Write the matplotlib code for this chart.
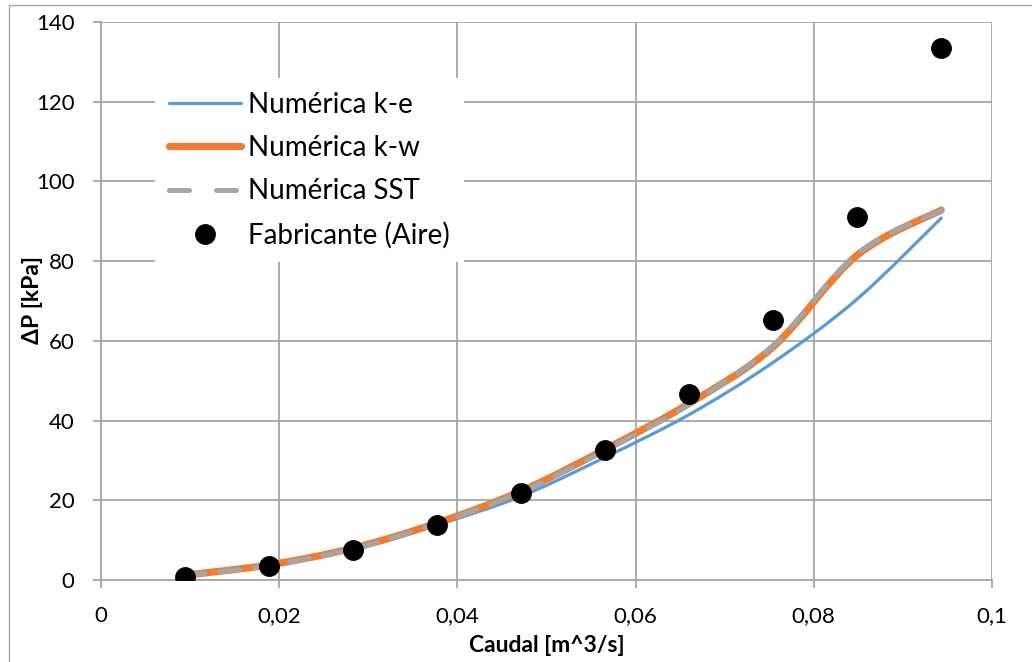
import matplotlib
matplotlib.use("Agg")
import matplotlib.pyplot as plt
from matplotlib.path import Path
from matplotlib.patches import PathPatch, Rectangle
from matplotlib.lines import Line2D
from matplotlib.ticker import FixedLocator, FixedFormatter

plt.rcParams['font.family'] = ['Lato', 'DejaVu Sans']

# Flow rate [m^3/s] and pressure drop [kPa]
caudal = [0.00943, 0.01886, 0.02829, 0.03772, 0.04715,
          0.05658, 0.06601, 0.07544, 0.08487, 0.0943]
fabricante = [0.75, 3.5, 7.5, 13.8, 21.8, 32.6, 46.7, 65.2, 91.0, 133.4]
k_e = [1.0, 3.6, 7.6, 13.8, 21.0, 30.8, 41.5, 54.6, 70.5, 90.8]
k_w = [1.2, 3.8, 8.0, 14.3, 22.3, 32.8, 44.3, 58.5, 81.5, 92.8]
sst = [1.1, 3.7, 7.8, 14.2, 22.1, 32.5, 44.1, 58.8, 81.8, 92.7]

x_ticks = [0, 0.02, 0.04, 0.06, 0.08, 0.1]
x_tick_labels = ["0", "0,02", "0,04", "0,06", "0,08", "0,1"]
y_ticks = [0, 20, 40, 60, 80, 100, 120, 140]

C_BLUE = "#5B9BD5"
C_ORANGE = "#ED7D31"
C_GRAY = "#A5A5A5"


def smooth_path(xs, ys):
    """Cubic Bezier path through the points (Catmull-Rom style smoothing)."""
    pts = list(zip(xs, ys))
    n = len(pts)
    verts = [pts[0]]
    codes = [Path.MOVETO]
    for i in range(n - 1):
        p0 = pts[i - 1] if i > 0 else pts[i]
        p1 = pts[i]
        p2 = pts[i + 1]
        p3 = pts[i + 2] if i + 2 < n else pts[i + 1]
        c1 = (p1[0] + (p2[0] - p0[0]) / 6, p1[1] + (p2[1] - p0[1]) / 6)
        c2 = (p2[0] - (p3[0] - p1[0]) / 6, p2[1] - (p3[1] - p1[1]) / 6)
        verts += [c1, c2, p2]
        codes += [Path.CURVE4] * 3
    return Path(verts, codes)


fig = plt.figure(figsize=(10.32, 6.62), dpi=100)
ax = fig.add_axes([101 / 1032, 82 / 662, 891 / 1032, 558 / 662])

# chart border
fig.patches.append(Rectangle((9 / 1032, -0.01), 1.02, (662 - 5) / 662 + 0.01,
                             transform=fig.transFigure, fill=False,
                             edgecolor="#A6A6A6", linewidth=1.0))

ax.set_xlim(0, 0.1)
ax.set_ylim(0, 140)
ax.xaxis.set_major_locator(FixedLocator(x_ticks))
ax.xaxis.set_major_formatter(FixedFormatter(x_tick_labels))
ax.set_yticks(y_ticks)
ax.grid(True, color="#A6A6A6", linewidth=1.3, zorder=0)
ax.set_axisbelow(True)
for side in ("top", "right"):
    ax.spines[side].set_visible(False)
for side in ("left", "bottom"):
    ax.spines[side].set_color("#A6A6A6")
    ax.spines[side].set_linewidth(1.3)
ax.tick_params(axis="both", direction="out", length=6, width=1.3,
               color="#A6A6A6", labelsize=16, labelcolor="#000000")
ax.tick_params(axis="x", pad=13)
ax.tick_params(axis="y", pad=13)

ax.add_patch(PathPatch(smooth_path(caudal, k_e), fill=False, edgecolor=C_BLUE,
                       linewidth=2.3, capstyle="round", zorder=3))
ax.add_patch(PathPatch(smooth_path(caudal, k_w), fill=False, edgecolor=C_ORANGE,
                       linewidth=5.2, capstyle="round", joinstyle="round", zorder=4))
ax.add_patch(PathPatch(smooth_path(caudal, sst), fill=False, edgecolor=C_GRAY,
                       linewidth=3.6, linestyle=(0, (4, 3)), capstyle="round", zorder=5))
ax.plot(caudal, fabricante, linestyle="none", marker="o", markersize=14,
        color="black", zorder=6)

ax.set_xlabel("Caudal [m^3/s]", fontsize=16.5, fontweight="bold")
ax.set_ylabel("ΔP [kPa]", fontsize=16.5, fontweight="bold")
ax.xaxis.set_label_coords(0.5, (580 - 646) / 558)
ax.xaxis.label.set_verticalalignment("center")
ax.yaxis.set_label_coords((32 - 101) / 891, (580 - 300) / 558)
ax.yaxis.label.set_verticalalignment("center")

handles = [
    Line2D([], [], color=C_BLUE, linewidth=2.3, solid_capstyle="round"),
    Line2D([], [], color=C_ORANGE, linewidth=5.2, solid_capstyle="round"),
    Line2D([], [], color=C_GRAY, linewidth=3.6, linestyle=(0, (4, 5.4)),
           dash_capstyle="round"),
    Line2D([], [], linestyle="none", marker="o", markersize=14, color="black"),
]
labels = ["Numérica k-e", "Numérica k-w", "Numérica SST", "Fabricante (Aire)"]
leg = ax.legend(handles, labels, loc="upper left",
                bbox_to_anchor=((155 - 101) / 891, (580 - 78) / 558),
                fontsize=20, frameon=True,
                facecolor="white", edgecolor="none", framealpha=1.0,
                fancybox=False, handlelength=2.6, handletextpad=0.25,
                labelspacing=0.62, borderpad=0.5, borderaxespad=0, numpoints=1)
leg.set_zorder(7)

fig.savefig("out.png", dpi=100)
